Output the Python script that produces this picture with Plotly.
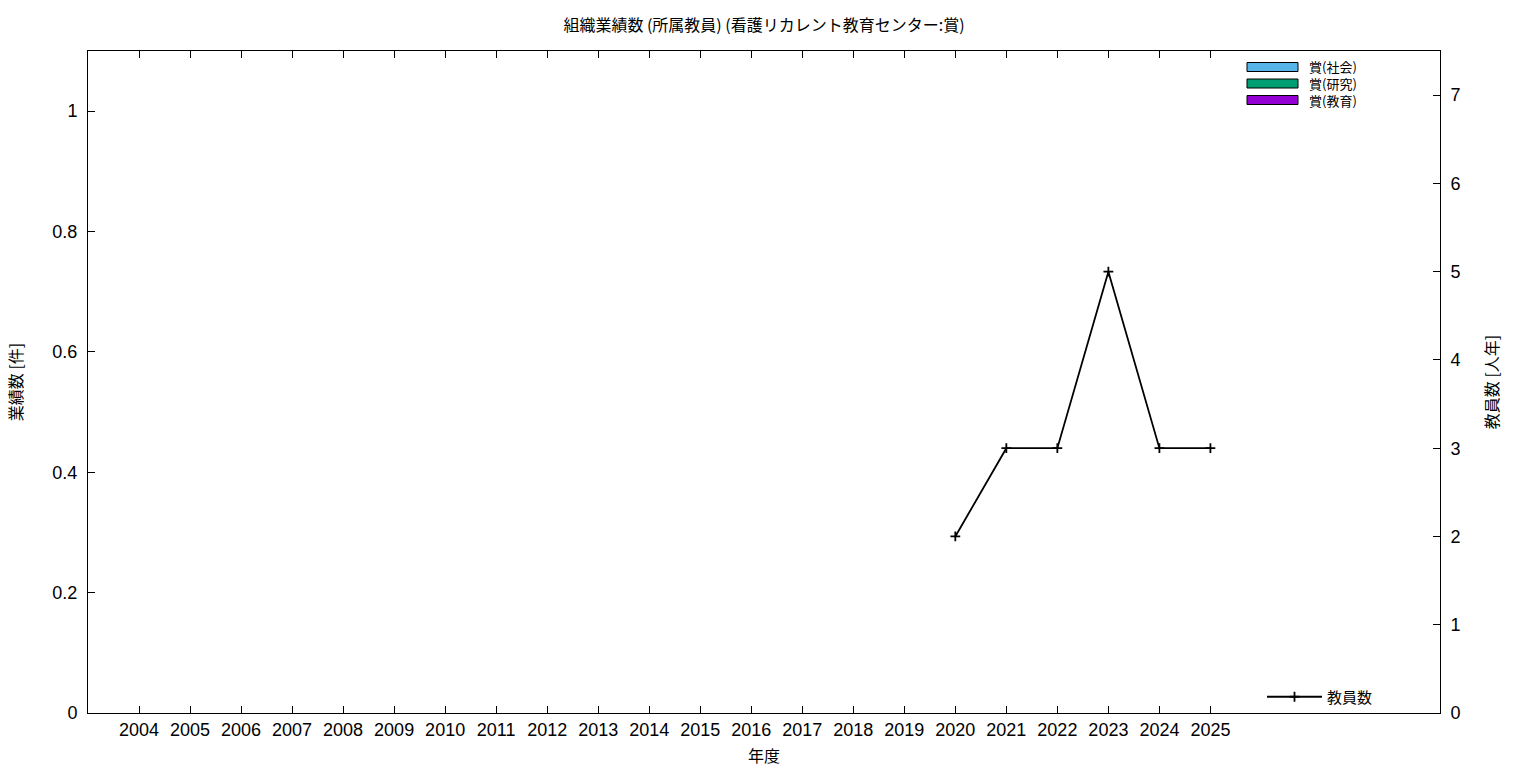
import plotly.graph_objects as go

years = [2004, 2005, 2006, 2007, 2008, 2009, 2010, 2011, 2012, 2013, 2014,
         2015, 2016, 2017, 2018, 2019, 2020, 2021, 2022, 2023, 2024, 2025]
award_social = [0, 0, 0, 0, 0, 0, 0, 0, 0, 0, 0, 0, 0, 0, 0, 0, 0, 0, 0, 0, 0, 0]
award_research = [0, 0, 0, 0, 0, 0, 0, 0, 0, 0, 0, 0, 0, 0, 0, 0, 0, 0, 0, 0, 0, 0]
award_education = [0, 0, 0, 0, 0, 0, 0, 0, 0, 0, 0, 0, 0, 0, 0, 0, 0, 0, 0, 0, 0, 0]
staff_years = [2020, 2021, 2022, 2023, 2024, 2025]
staff_count = [2, 3, 3, 5, 3, 3]

bar_series = [
    ("賞(社会)", award_social, "#56b4e9"),
    ("賞(研究)", award_research, "#009e73"),
    ("賞(教育)", award_education, "#9400d3"),
]

FONT = "Liberation Sans, Noto Sans CJK JP, sans-serif"
CJK = "Noto Sans CJK JP, sans-serif"

# body margin is removed in the page, so figure coordinates = screen coordinates
W, H = 1536, 768
L, T = 88, 51
R = W - 1440
B = H - 713
PW, PH = W - L - R, H - T - B


def px(xs):
    return (xs - L) / PW


def py(ys):
    return (H - B - ys) / PH


fig = go.Figure()
for name, vals, col in bar_series:
    fig.add_trace(go.Bar(x=years, y=vals, name=name, marker=dict(color=col, line=dict(color="black", width=0)),
                         showlegend=False, yaxis="y"))

fig.add_trace(go.Scatter(x=staff_years, y=staff_count, name="教員数", mode="lines+markers", yaxis="y2",
                         line=dict(color="black", width=1.8),
                         marker=dict(symbol="cross-thin", size=7, line=dict(color="black", width=1.8)),
                         legend="legend2"))

# custom legend for bar series (wide swatches like the reference)
shapes = []
for i, (name, vals, col) in enumerate(bar_series):
    yc = 67 + i * 16.5
    shapes.append(dict(type="rect", xref="paper", yref="paper",
                       x0=px(1247), x1=px(1298),
                       y0=py(yc - 4.5), y1=py(yc + 4.5),
                       fillcolor=col, line=dict(color="black", width=1)))
annotations = [dict(xref="paper", yref="paper", x=px(1307), y=py(67 + 16.5),
                    text="<br>".join(s[0] for s in bar_series), showarrow=False,
                    xanchor="left", yanchor="middle", align="left",
                    font=dict(family=CJK, size=13, color="black"))]

fig.update_layout(
    width=W, height=H,
    margin=dict(l=L, r=R, t=T, b=B),
    paper_bgcolor="white", plot_bgcolor="white",
    barmode="group",
    title=dict(text="組織業績数 (所属教員) (看護リカレント教育センター:賞)", x=0.5, xref="paper",
               y=1 - 25 / H, yanchor="middle",
               font=dict(family=CJK, size=16, color="black")),
    font=dict(family=FONT, size=18, color="black"),
    xaxis=dict(range=[2003, 2029.5], tickvals=years, ticktext=[str(y) for y in years],
               ticks="inside", ticklen=7, tickwidth=1, tickcolor="black",
               showline=True, linecolor="black", linewidth=1, mirror="ticks",
               showgrid=False, zeroline=False, automargin=False,
               tickfont=dict(family=FONT, size=18),
               title=dict(text="年度", font=dict(family=CJK, size=16), standoff=12)),
    yaxis=dict(range=[0, 1.1], tickvals=[0, 0.2, 0.4, 0.6, 0.8, 1],
               ticktext=["0", "0.2", "0.4", "0.6", "0.8", "1"],
               ticks="inside", ticklen=7, tickcolor="black", showline=True, linecolor="black",
               linewidth=1, showgrid=False, zeroline=False, ticklabelstandoff=6, automargin=False,
               tickfont=dict(family=FONT, size=18),
               title=dict(text="業績数 [件]", font=dict(family=CJK, size=16), standoff=25)),
    yaxis2=dict(range=[0, 7.5], tickvals=[0, 1, 2, 3, 4, 5, 6, 7], overlaying="y", side="right",
                ticks="inside", ticklen=7, tickcolor="black", showline=True, linecolor="black",
                linewidth=1, showgrid=False, zeroline=False, ticklabelstandoff=6, automargin=False,
                tickfont=dict(family=FONT, size=18),
                title=dict(text="教員数 [人年]", font=dict(family=CJK, size=16), standoff=27)),
    legend2=dict(x=px(1262), y=py(697), xanchor="left", yanchor="middle",
                 bgcolor="rgba(0,0,0,0)", itemwidth=55,
                 font=dict(family=CJK, size=15, color="black")),
    shapes=shapes,
    annotations=annotations,
)

fig.write_html("out.html", config={"displayModeBar": False},
               post_script="document.body.style.margin='0px';document.body.style.overflow='hidden';")
